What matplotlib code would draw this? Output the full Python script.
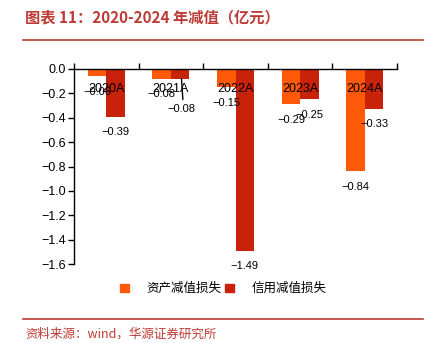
import matplotlib.pyplot as plt
from matplotlib.patches import Rectangle
import numpy as np

plt.rcParams['font.family'] = ['Liberation Sans', 'Noto Sans CJK SC', 'DejaVu Sans']
plt.rcParams['axes.unicode_minus'] = True

# Data.
years = ['2020A', '2021A', '2022A', '2023A', '2024A']
asset_loss = [-0.06, -0.08, -0.15, -0.29, -0.84]
credit_loss = [-0.39, -0.08, -1.49, -0.25, -0.33]
series_names = ['资产减值损失', '信用减值损失']

c_orange = '#FF5A0A'
c_red = '#C8230A'
c_title = '#BE3A34'


def fmt(v, nd=2):
    s = '%.*f' % (nd, v)
    if float(s) == 0:
        s = s.lstrip('-')
    return s.replace('-', '\u2212')


fig = plt.figure(figsize=(4.33, 3.43), dpi=100)
ax = fig.add_axes([0.171, 0.230, 0.746, 0.569])

x = np.arange(len(years))
w = 0.286
ax.bar(x - w/2, asset_loss, w, color=c_orange)
ax.bar(x + w/2, credit_loss, w, color=c_red)

# Value labels below bar ends.
for xi, v in zip(x - w/2, asset_loss):
    ax.annotate(fmt(v), (xi, v), xytext=(0, -11), textcoords='offset points',
                ha='center', va='center', fontsize=8)
for i, (xi, v) in enumerate(zip(x + w/2, credit_loss)):
    if years[i] == '2021A':
        # label pushed down with a leader line
        ax.annotate(fmt(v), (xi, v), xytext=(1, -22), textcoords='offset points',
                    ha='center', va='center', fontsize=8)
        ax.annotate('', (xi + 0.02, v), xytext=(1, -15), textcoords='offset points',
                    arrowprops=dict(arrowstyle='-', color='k', lw=1.0,
                                    shrinkA=0, shrinkB=0, patchA=None))
    else:
        ax.annotate(fmt(v), (xi, v), xytext=(0, -11), textcoords='offset points',
                    ha='center', va='center', fontsize=8)

# Axis.
ax.set_xlim(-0.5, len(years) - 0.5)
ax.set_ylim(-1.6, 0)
ax.set_yticks(np.linspace(-1.6, 0, 9))
ax.yaxis.set_major_formatter(plt.FuncFormatter(lambda v, p: fmt(v, 1)))
ax.spines['top'].set_visible(False)
ax.spines['right'].set_visible(False)
ax.spines['bottom'].set_position(('data', 0))
ax.set_xticks(x)
ax.set_xticklabels(years)
ax.set_xticks(np.arange(-0.5, len(years)), minor=True)
ax.tick_params(axis='x', which='major', length=0, pad=10, labelsize=9)
ax.tick_params(axis='x', which='minor', direction='in', length=4, width=1)
ax.tick_params(axis='y', direction='out', length=4, width=1, labelsize=9, pad=2)
for s in ['left', 'bottom']:
    ax.spines[s].set_linewidth(1)

# Legend.
handles = [Rectangle((0, 0), 1, 1, color=c_orange), Rectangle((0, 0), 1, 1, color=c_red)]
fig.legend(handles, series_names, loc='center', bbox_to_anchor=(0.515, 0.157), ncol=2,
           frameon=False, fontsize=9, handlelength=0.7, handleheight=0.7,
           handletextpad=1.4, columnspacing=0.3)

# Title and source.
fig.text(0.058, 0.949, '图表 11：2020-2024 年减值（亿元）', color=c_title, fontsize=11,
         fontweight='bold', va='center', ha='left', family=['Noto Sans CJK SC'])
fig.add_artist(plt.Line2D([0.053, 0.977], [0.883, 0.883], color=c_title, lw=1.2))
fig.add_artist(plt.Line2D([0.053, 0.977], [0.070, 0.070], color=c_title, lw=1.2))
fig.text(0.058, 0.025, '资料来源：wind，华源证券研究所', color=c_title, fontsize=9,
         va='center', ha='left', family=['Noto Sans CJK SC'])

fig.savefig('out.png', dpi=100)
